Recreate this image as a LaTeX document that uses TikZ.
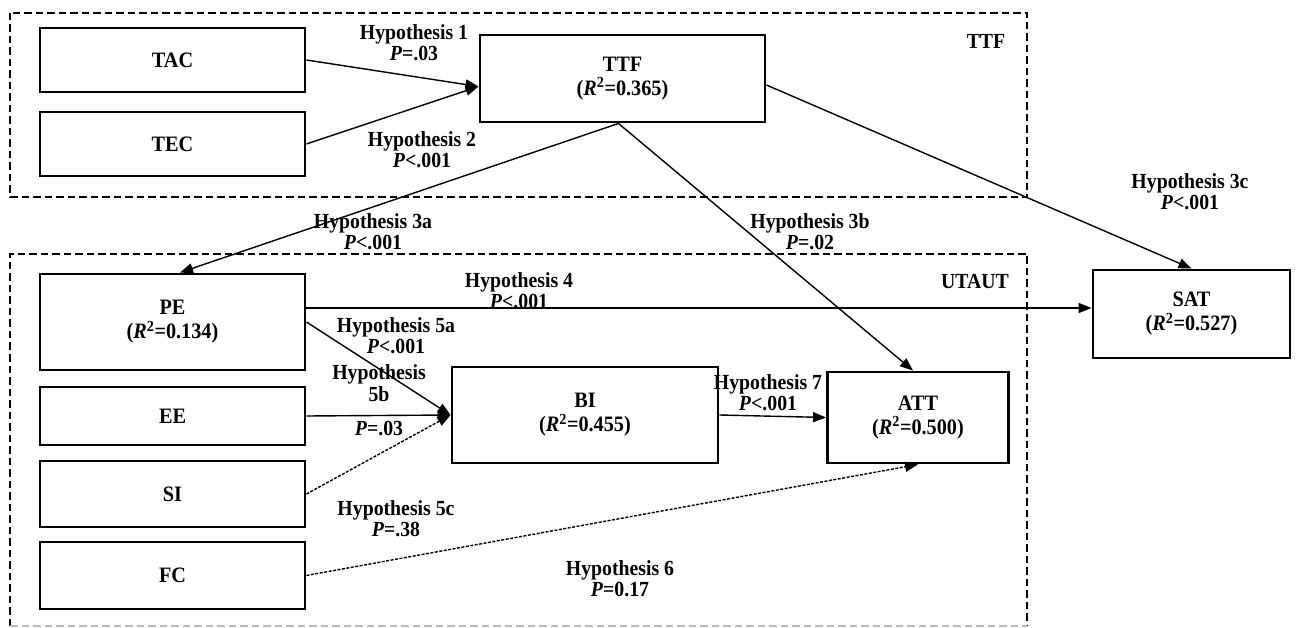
\documentclass[tikz,border=0pt]{standalone}
\usepackage{fontspec}
\setmainfont{Liberation Serif}[FakeStretch=0.92]
\usetikzlibrary{arrows.meta,calc}
\begin{document}
\begin{tikzpicture}[x=1pt,y=-1pt,
 box/.style={draw,line width=2.9pt,align=center,inner sep=0pt,font=\fontsize{22}{24}\selectfont\bfseries},
 grp/.style={draw,line width=2.5pt,dash pattern=on 7.5pt off 4pt},
 lab/.style={align=center,inner sep=0pt,font=\fontsize{21.5}{21}\selectfont\bfseries},
 arr/.style={line width=1.4pt,-{Triangle[length=13pt,width=10pt]}},
 darr/.style={arr,dash pattern=on 3pt off 1.5pt},
]
\useasboundingbox (0,0) rectangle (1296,628);
% groups
\draw[grp] (10,13) rectangle (1027,197);
\draw[grp] (10,626) -- (10,254) -- (1027,254) -- (1027,626);
\draw[grp,gray!55] (10,626) -- (1027,626);
\node[lab] (ttflab) at (986,41) {TTF};
\node[lab] (utlab) at (975,282) {UTAUT};
% nodes
\node[box,minimum width=265,minimum height=64] (TAC) at (172.5,60) {TAC};
\node[box,minimum width=265,minimum height=64] (TEC) at (172.5,144) {TEC};
\node[box,minimum width=285,minimum height=87] (TTF) at (622.5,78.5) {TTF\\(\textit{R}\textsuperscript{2}=0.365)};
\node[box,minimum width=197,minimum height=88] (SAT) at (1191.5,314) {SAT\\(\textit{R}\textsuperscript{2}=0.527)};
\node[box,minimum width=265,minimum height=96] (PE) at (172.5,322) {PE\\(\textit{R}\textsuperscript{2}=0.134)};
\node[box,minimum width=265,minimum height=58] (EE) at (172.5,416) {EE};
\node[box,minimum width=265,minimum height=66] (SI) at (172.5,494) {SI};
\node[box,minimum width=265,minimum height=67] (FC) at (172.5,575.5) {FC};
\node[box,minimum width=266,minimum height=96] (BI) at (585,415) {BI\\(\textit{R}\textsuperscript{2}=0.455)};
\node[box,minimum width=181,minimum height=91] (ATT) at (918,417.5) {ATT\\(\textit{R}\textsuperscript{2}=0.500)};
% connectors
\coordinate (ttfin) at ($(TTF.west)+(0,8)$);
\coordinate (ttfb) at ($(TTF.south)+(-4,0)$);
\draw[arr] (TAC.east) -- (ttfin);
\draw[arr] (TEC.east) -- (ttfin);
\draw[arr] ($(TTF.east)+(0,6.5)$) -- (SAT.north);
\draw[arr] (ttfb) -- ($(PE.north)+(7.5,0)$);
\draw[arr] (ttfb) -- ($(ATT.north)+(-5,0)$);
\draw[arr] ($(PE.east)+(0,-14)$) -- ($(SAT.west)+(0,-6)$);
\draw[arr] (PE.east) -- (BI.west);
\draw[arr] (EE.east) -- (BI.west);
\draw[darr] (SI.east) -- (BI.west);
\draw[darr] (FC.east) -- (ATT.south);
\draw[arr] (BI.east) -- (ATT.west);
% labels
\node[lab] (h1) at (414,43) {Hypothesis 1\\\textit{P}=.03};
\node[lab] (h2) at (422,150) {Hypothesis 2\\\textit{P}<.001};
\node[lab] (h3a) at (373,232) {Hypothesis 3a\\\textit{P}<.001};
\node[lab] (h3b) at (810,232) {Hypothesis 3b\\\textit{P}=.02};
\node[lab] (h3c) at (1190,192) {Hypothesis 3c\\\textit{P}<.001};
\node[lab] (h4) at (519,291) {Hypothesis 4\\\textit{P}<.001};
\node[lab] (h5a) at (396,336) {Hypothesis 5a\\\textit{P}<.001};
\node[lab,anchor=north,font=\fontsize{21.5}{22}\selectfont\bfseries] (h5b) at (379,364) {Hypothesis\\5b\\[12pt]\textit{P}=.03};
\node[lab] (h5c) at (396,519) {Hypothesis 5c\\\textit{P}=.38};
\node[lab] (h6) at (620,579) {Hypothesis 6\\\textit{P}=0.17};
\node[lab] (h7) at (768,393) {Hypothesis 7\\\textit{P}<.001};
\end{tikzpicture}
\end{document}
